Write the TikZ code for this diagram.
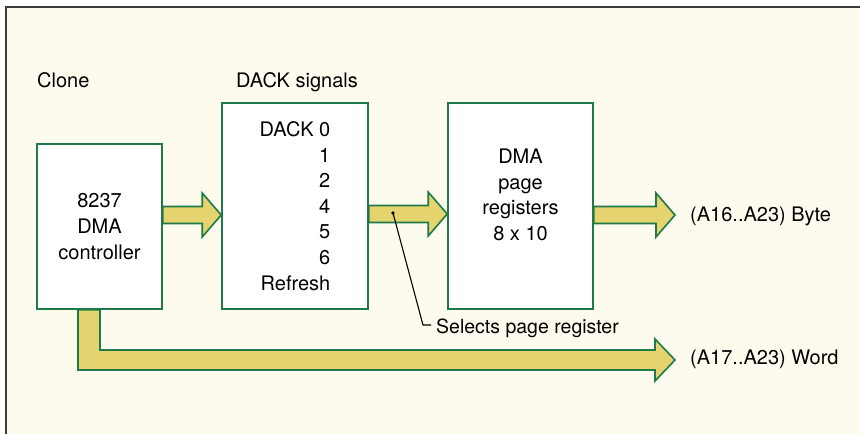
\documentclass[tikz,border=0pt]{standalone}
\usepackage{fontspec}
\setmainfont{TeX Gyre Heros}
\usetikzlibrary{calc, positioning}
\definecolor{boxgreen}{RGB}{30,122,72}
\definecolor{busyellow}{RGB}{228,211,110}
\definecolor{paper}{RGB}{253,251,237}
\definecolor{framegray}{RGB}{60,60,60}

% fat bus arrow: #1 = tail point, #2 = tip point
\newcommand{\busarrow}[2]{%
  \draw[bus] ($(#1)+(0,-8.5)$) -- ($(#2)+(-19,-8.5)$) -- ($(#2)+(-19,-22)$) -- (#2)
    -- ($(#2)+(-19,22)$) -- ($(#2)+(-19,8.5)$) -- ($(#1)+(0,8.5)$) -- cycle;}

\begin{document}
\begin{tikzpicture}[x=1pt, y=-1pt, font=\fontsize{20}{25.6}\selectfont,
    block/.style={draw=boxgreen, fill=white, line width=1.6pt, inner sep=0pt, align=center},
    bus/.style={draw=boxgreen, fill=busyellow, line width=1.6pt, line join=miter},
    pointer/.style={black, line width=1.1pt},
    lbl/.style={anchor=base west, inner sep=0pt}]
    \useasboundingbox (0,0) rectangle (860,434);
    \fill[white] (0,0) rectangle (860,434);
    \fill[paper] (6,7) rectangle (860,434);
    \draw[framegray, line width=1.8pt] (6,434) -- (6,7) -- (860,7);

    % headings
    \node[lbl] (clone) at (37,87) {Clone};
    \node[lbl] (dackhead) at (236,87) {DACK signals};

    % blocks
    \node[block, minimum width=125pt, minimum height=165pt, align=center] (ctrl) at (99.5,226.5) {8237\\DMA\\controller};
    \node[block, minimum width=146pt, minimum height=206pt, align=right] (dack) at (295,206) {DACK 0\\1\\2\\4\\5\\6\\Refresh};
    \node[block, minimum width=145pt, minimum height=206pt] (page) at (520.5,206) {};
    \node[align=center, inner sep=0pt] (pagetext) at (520.5,195) {DMA\\page\\registers\\8 x 10};

    % outputs
    \node[lbl] (byte) at (690,221) {(A16..A23) Byte};
    \node[lbl] (word) at (690,364) {(A17..A23) Word};
    \node[lbl, font=\fontsize{19.5}{24}\selectfont] (sellbl) at (436,333) {Selects page register};

    % buses
    \coordinate (a1tail) at ([yshift=11.5pt]ctrl.east);
    \coordinate (a1tip) at ([yshift=-9pt]dack.west);
    \coordinate (a2tail) at ([yshift=-8pt]dack.east);
    \coordinate (a2tip) at ([yshift=-8pt]page.west);
    \coordinate (a3tail) at ([yshift=-9pt]page.east);
    \coordinate (bytetip) at (675,215);
    \coordinate (wordtip) at (675,360);
    \busarrow{a1tail}{a1tip}
    \busarrow{a2tail}{a2tip}
    \busarrow{a3tail}{bytetip}
    \draw[bus] ($(ctrl.south)+(-21.5,0)$) |- ($(wordtip)+(-20,10)$) -- ($(wordtip)+(-20,21)$) -- (wordtip)
        -- ($(wordtip)+(-20,-21)$) -- ($(wordtip)+(-20,-10)$) -| ($(ctrl.south)+(0.5,0)$) -- cycle;

    % select line
    \coordinate (selpt) at (393,213);
    \coordinate (selbend) at (423,325);
    \coordinate (selend) at (431,325);
    \fill (selpt) circle (1.8pt);
    \draw[pointer] (selpt) -- (selbend) -- (selend);
\end{tikzpicture}
\end{document}
